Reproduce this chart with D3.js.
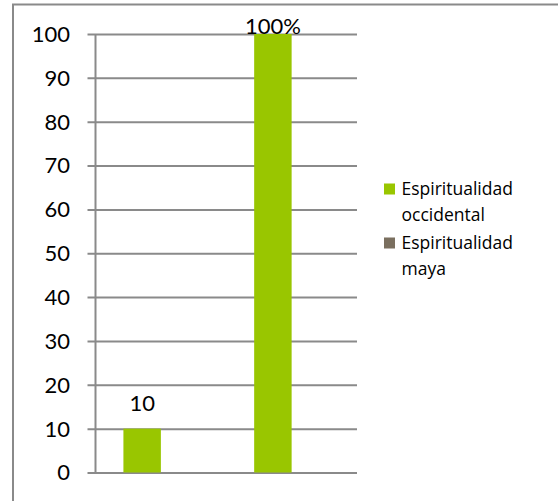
<!DOCTYPE html>
<html>
<head>
<meta charset="utf-8">
<script src="https://cdn.jsdelivr.net/npm/d3@7"></script>
<style>
  html, body { margin: 0; padding: 0; background: #fff; }
  svg { display: block; }
</style>
</head>
<body>
<svg id="chart" width="558" height="501"></svg>
<script>
const categories = ["1", "2"];
const seriesNames = ["Espiritualidad occidental", "Espiritualidad maya"];
const occidentalValues = [10, 100];
const mayaValues = [null, null];
const occidentalLabels = ["10", "100%"];
const yTicks = [0, 10, 20, 30, 40, 50, 60, 70, 80, 90, 100];
const legendLines = [["Espiritualidad", "occidental"], ["Espiritualidad", "maya"]];
const colors = ["#99C600", "#7A6F5F"];

const svg = d3.select("#chart");
const font = "Lato, 'Open Sans', sans-serif";
const legendFont = "'Open Sans', Lato, sans-serif";

// outer frame
svg.append("rect")
  .attr("x", 13).attr("y", 4.5)
  .attr("width", 600).attr("height", 600)
  .attr("fill", "none").attr("stroke", "#8a8a8a").attr("stroke-width", 2);

const plot = { left: 95.5, right: 357, top: 34, bottom: 472.5 };

const y = d3.scaleLinear().domain([0, 100]).range([plot.bottom, plot.top]);
const x0 = d3.scaleBand().domain(categories)
  .range([plot.left, plot.right])
  .paddingInner(0.427).paddingOuter(0.2135);
const x1 = d3.scaleBand().domain(seriesNames).range([0, x0.bandwidth()]);

// gridlines + ticks
const yAxis = d3.axisLeft(y).tickValues(yTicks)
  .tickSize(-(plot.right - plot.left)).tickFormat("");
const g = svg.append("g").attr("transform", `translate(${plot.left},0)`).call(yAxis);
g.select(".domain").remove();
g.selectAll(".tick line").attr("stroke", "#8a8a8a").attr("stroke-width", 2)
  .attr("x1", -8);

// vertical axis line
svg.append("line")
  .attr("x1", plot.left).attr("x2", plot.left)
  .attr("y1", y(100)).attr("y2", y(0))
  .attr("stroke", "#8a8a8a").attr("stroke-width", 2);

// tick labels
svg.append("g").selectAll("text").data(yTicks).join("text")
  .attr("x", 70).attr("y", d => y(d))
  .attr("dy", "0.36em")
  .attr("text-anchor", "end")
  .attr("font-family", font).attr("font-size", 22).attr("fill", "#000")
  .text(d => d);

// bars
const seriesData = [occidentalValues, mayaValues];
seriesData.forEach((vals, si) => {
  svg.append("g").selectAll("rect")
    .data(categories.map((c, i) => ({ c, v: vals[i] })).filter(d => d.v != null && d.v > 0))
    .join("rect")
    .attr("x", d => x0(d.c) + x1(seriesNames[si]))
    .attr("width", x1.bandwidth())
    .attr("y", d => y(d.v))
    .attr("height", d => y(0) - y(d.v))
    .attr("fill", colors[si]);
});

// data labels
svg.append("g").selectAll("text")
  .data(categories.map((c, i) => ({ c, v: occidentalValues[i], l: occidentalLabels[i] })))
  .join("text")
  .attr("x", d => x0(d.c) + x1(seriesNames[0]) + x1.bandwidth() / 2)
  .attr("y", d => Math.max(y(d.v) - 18, y(100)))
  .attr("text-anchor", "middle")
  .attr("font-family", font).attr("font-size", 22).attr("fill", "#000")
  .text(d => d.l);

// legend
const legend = svg.append("g");
const legendTop = [183.5, 237.5];
legendLines.forEach((lines, i) => {
  legend.append("rect")
    .attr("x", 384).attr("y", legendTop[i])
    .attr("width", 11).attr("height", 11)
    .attr("fill", colors[i]);
  const t = legend.append("text")
    .attr("font-family", legendFont).attr("font-size", 17.5).attr("fill", "#000");
  lines.forEach((ln, j) => {
    t.append("tspan").attr("x", 401.5).attr("y", legendTop[i] + 11.5 + j * 26).text(ln);
  });
});
</script>
</body>
</html>
